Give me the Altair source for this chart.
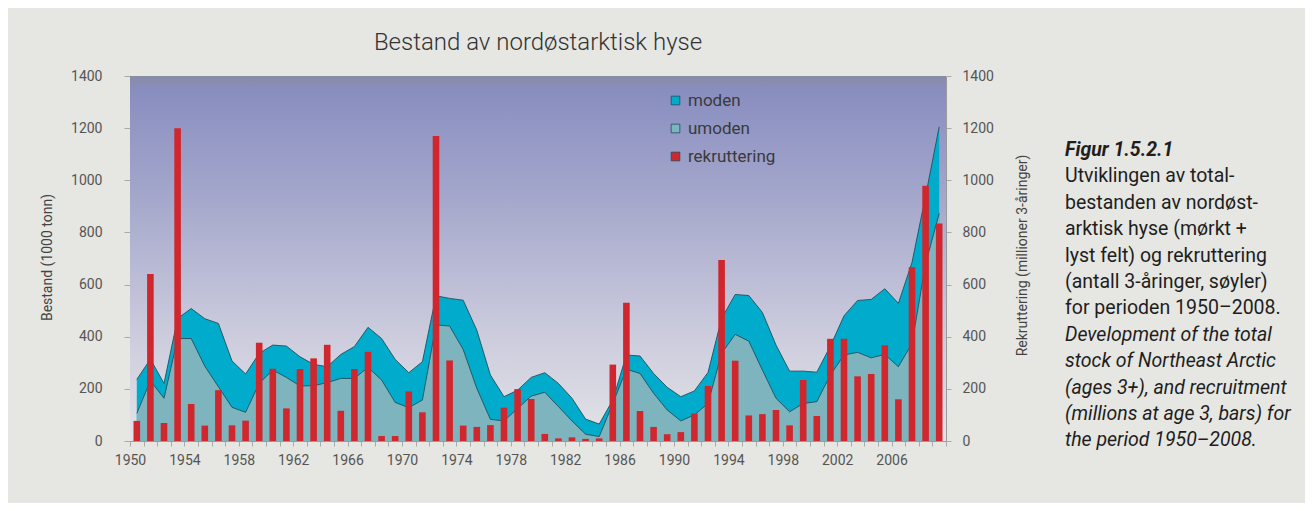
import altair as alt
import pandas as pd

# ---------------- data ----------------
years = list(range(1950, 2010))

total = [236, 314, 221, 470, 508, 469, 451, 307, 257, 336,
         368, 364, 323, 294, 285, 332, 362, 436, 393, 313,
         262, 304, 557, 547, 540, 425, 253, 170, 195, 244,
         262, 221, 164, 84, 65, 157, 330, 326, 259, 206,
         170, 192, 263, 470, 562, 558, 493, 368, 268, 268,
         264, 364, 480, 539, 543, 584, 528, 685, 940, 1205]

umoden = [106, 231, 164, 393, 393, 287, 208, 129, 110, 221,
          272, 244, 211, 212, 224, 240, 240, 282, 234, 148,
          128, 157, 445, 441, 351, 202, 83, 77, 125, 172,
          187, 132, 77, 26, 17, 144, 275, 259, 183, 119,
          77, 100, 144, 336, 409, 383, 272, 164, 112, 144,
          151, 253, 330, 340, 319, 332, 285, 374, 680, 873]

rekruttering = [77, 641, 69, 1200, 142, 59, 195, 60, 78, 377,
                277, 125, 276, 317, 369, 116, 276, 342, 19, 19,
                190, 110, 1170, 309, 59, 54, 61, 128, 199, 161,
                27, 10, 14, 8, 10, 293, 530, 115, 54, 26,
                34, 105, 211, 694, 308, 98, 103, 119, 60, 234,
                96, 392, 392, 248, 257, 367, 160, 666, 979, 834]

series_names = ["moden", "umoden", "rekruttering"]
series_colors = ["#00abcc", "#7db4bd", "#d0262d"]

x_tick_values = list(range(1950, 2011))
y_tick_values = list(range(0, 1401, 200))

title_text = "Bestand av nordøstarktisk hyse"
left_title = "Bestand (1000 tonn)"
right_title = "Rekruttering (millioner 3-åringer)"

caption_head = ["Figur 1.5.2.1"]
caption_no = ["Utviklingen av total-",
              "bestanden av nordøst-",
              "arktisk hyse (mørkt +",
              "lyst felt) og rekruttering",
              "(antall 3-åringer, søyler)",
              "for perioden 1950–2008."]
caption_en = ["Development of the total",
              "stock of Northeast Arctic",
              "(ages 3+), and recruitment",
              "(millions at age 3, bars) for",
              "the period 1950–2008."]

df = pd.DataFrame({"year": years, "total": total,
                   "umoden": umoden, "rekruttering": rekruttering})

# ---------------- layout / style ----------------
W, H = 816, 365
FONT = "Roboto, 'Liberation Sans', sans-serif"
LABEL_COLOR = "#555555"
LINE_COLOR = "#1f4f5c"

x_enc = alt.X(
    "xc:Q",
    scale=alt.Scale(domain=[1950, 2010], nice=False, zero=False, padding=0),
    axis=alt.Axis(values=x_tick_values, format="d",
                  labelExpr="(datum.value % 4 == 2 && datum.value < 2010) ? datum.label : ''",
                  title=None, grid=False, tickSize=5, tickColor="#aaaaaa",
                  domainColor="#9a9a9a", labelPadding=7, labelFontSize=14,
                  labelColor=LABEL_COLOR, labelFont=FONT, labelFlush=False,
                  labelOverlap=False),
)

y_scale = alt.Scale(domain=[0, 1400], nice=False, zero=True, padding=0)
left_axis = alt.Axis(orient="left", values=y_tick_values, format="d", grid=False, tickSize=6,
                     tickColor="#aaaaaa", domainColor="#9a9a9a", labelPadding=22,
                     labelFontSize=14, labelColor=LABEL_COLOR, labelFont=FONT,
                     title=left_title, titleFont=FONT, titleFontSize=14,
                     titleFontWeight="normal", titleColor="#444444",
                     titleX=-83, titleY=181, titleAngle=270, titleBaseline="middle",
                     titleAlign="center")
right_axis = alt.Axis(orient="right", values=y_tick_values, format="d", grid=False, tickSize=5,
                      tickColor="#aaaaaa", domainColor="#9a9a9a", labelPadding=11,
                      labelFontSize=14, labelColor=LABEL_COLOR, labelFont=FONT,
                      title=right_title, titleFont=FONT, titleFontSize=14,
                      titleFontWeight="normal", titleColor="#444444",
                      titleX=76, titleY=179, titleAngle=270, titleBaseline="middle",
                      titleAlign="center")

color_enc = alt.Color(
    "serie:N",
    scale=alt.Scale(domain=series_names, range=series_colors),
    legend=alt.Legend(orient="none", legendX=537, legendY=16, title=None,
                      symbolType="square", symbolSize=75, symbolStrokeColor=LINE_COLOR,
                      symbolStrokeWidth=0.8, symbolOpacity=1,
                      labelFontSize=17, labelFont=FONT, labelColor="#3a3a3a",
                      labelOffset=4, rowPadding=10, padding=0),
)

base = alt.Chart(df).transform_calculate(xc="datum.year + 0.5")

gradient = alt.LinearGradient(
    gradient="linear", x1=0, y1=0, x2=0, y2=1,
    stops=[alt.GradientStop(offset=0, color="#878ca6"),
           alt.GradientStop(offset=0.04, color="#898ec0"),
           alt.GradientStop(offset=0.35, color="#a6a9cc"),
           alt.GradientStop(offset=0.7, color="#cbcbdd"),
           alt.GradientStop(offset=1, color="#e3e3e7")],
)
background = alt.Chart(pd.DataFrame({"k": [0]})).mark_rect(fill=gradient).encode(
    x=alt.value(0), x2=alt.value(W), y=alt.value(0), y2=alt.value(H)
)

area_total = base.transform_calculate(serie="'moden'").mark_area(opacity=1).encode(
    x=x_enc, y=alt.Y("total:Q", scale=y_scale, axis=left_axis), color=color_enc
)
area_um = base.transform_calculate(serie="'umoden'").mark_area(opacity=1).encode(
    x=x_enc, y=alt.Y("umoden:Q", scale=y_scale, axis=left_axis), color=color_enc
)
line_total = base.mark_line(color=LINE_COLOR, strokeWidth=0.9).encode(
    x=x_enc, y=alt.Y("total:Q", scale=y_scale, axis=left_axis)
)
line_um = base.mark_line(color=LINE_COLOR, strokeWidth=0.9).encode(
    x=x_enc, y=alt.Y("umoden:Q", scale=y_scale, axis=left_axis)
)
stock = alt.layer(area_total, area_um, line_total, line_um)

bars = base.transform_calculate(serie="'rekruttering'").mark_bar(size=6.6, opacity=1).encode(
    x=x_enc, y=alt.Y("rekruttering:Q", scale=y_scale, axis=right_axis), color=color_enc
)

cap_x = 935
cap_y0 = 80
cap_lh = 26.4
cap_fs = 19.5
cap_head = alt.Chart(pd.DataFrame({"k": [0]})).mark_text(
    text=caption_head, align="left", baseline="alphabetic", font=FONT, fontSize=cap_fs,
    fontStyle="italic", fontWeight="bold", color="#1e1e1e", lineHeight=cap_lh
).encode(x=alt.value(cap_x), y=alt.value(cap_y0))
cap_no = alt.Chart(pd.DataFrame({"k": [0]})).mark_text(
    text=caption_no, align="left", baseline="alphabetic", font=FONT, fontSize=cap_fs,
    color="#1e1e1e", lineHeight=cap_lh
).encode(x=alt.value(cap_x), y=alt.value(cap_y0 + cap_lh))
cap_en = alt.Chart(pd.DataFrame({"k": [0]})).mark_text(
    text=caption_en, align="left", baseline="alphabetic", font=FONT, fontSize=cap_fs,
    fontStyle="italic", color="#1e1e1e", lineHeight=cap_lh
).encode(x=alt.value(cap_x), y=alt.value(cap_y0 + 7 * cap_lh))

chart = alt.layer(background, stock, bars, cap_head, cap_no, cap_en).resolve_scale(
    y="independent"
).properties(
    width=W, height=H,
    title=alt.TitleParams(title_text, font=FONT, fontSize=24, fontWeight=300,
                          color="#333333", anchor="middle", offset=14),
    autosize=alt.AutoSizeParams(type="none"),
    padding={"left": 122, "top": 68, "right": 359, "bottom": 62},
).configure(background="#e6e6e2").configure_view(stroke=None)

chart.save("out.html", embed_options={"renderer": "svg", "actions": False})
